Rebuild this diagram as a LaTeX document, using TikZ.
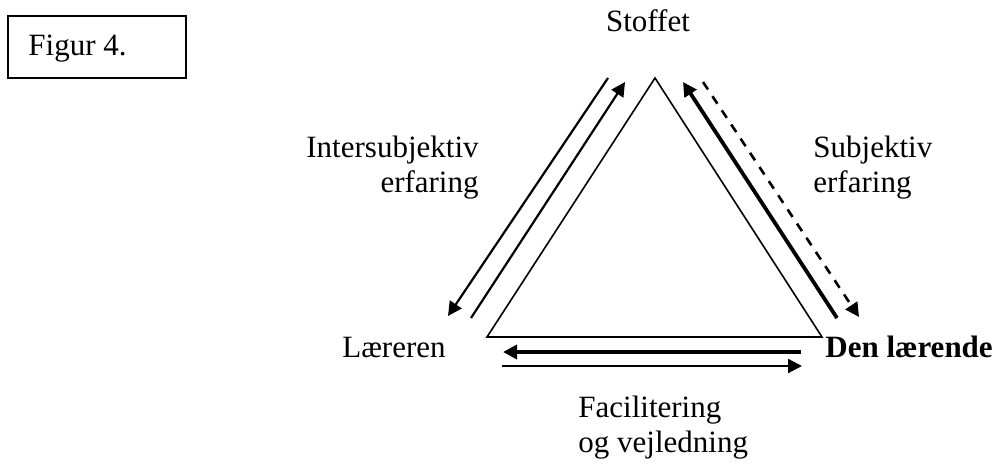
\documentclass[tikz,border=0pt]{standalone}
\usepackage{fontspec}
\setmainfont{Liberation Serif}
\usetikzlibrary{arrows.meta}
\begin{document}
\begin{tikzpicture}[x=0.5pt,y=-0.5pt,
  lbl/.style={inner sep=0pt,font=\fontsize{15.5}{17.5}\selectfont},
  edge/.style={line width=0.8pt},
  thin arrow/.style={line width=1.1pt,-{Triangle[length=7pt,width=7pt]}},
  thick arrow/.style={line width=1.9pt,-{Triangle[length=7pt,width=7pt]}}]
\useasboundingbox (0,0) rectangle (1001,466);

% caption box
\node[draw,line width=0.8pt,minimum width=89pt,minimum height=31pt,inner sep=0pt] (box) at (97,47) {};
\node[lbl,anchor=base west] (cap) at (28,55) {Figur 4.};

% triangle
\coordinate (top) at (655,78);
\coordinate (bl) at (487,337);
\coordinate (br) at (822,337);
\draw[edge,line join=miter] (top) -- (bl) -- (br) -- cycle;

% left side: intersubjective experience
\coordinate (l1a) at (608,78);
\coordinate (l1b) at (448,316);
\coordinate (l2a) at (471,318);
\coordinate (l2b) at (625,82);
\draw[thin arrow] (l1a) -- (l1b);
\draw[thin arrow] (l2a) -- (l2b);

% right side: subjective experience
\coordinate (r1a) at (837,318);
\coordinate (r1b) at (683,82);
\coordinate (r2a) at (703,82);
\coordinate (r2b) at (859,317);
\draw[thick arrow] (r1a) -- (r1b);
\draw[thin arrow,line width=1.3pt,dash pattern=on 4.5pt off 4pt] (r2a) -- (r2b);

% bottom: facilitation and guidance
\coordinate (b1a) at (801,352);
\coordinate (b1b) at (503,352);
\coordinate (b2a) at (502,366);
\coordinate (b2b) at (802,366);
\draw[thick arrow] (b1a) -- (b1b);
\draw[thin arrow] (b2a) -- (b2b);

% labels (multi-line nodes are placed by the baseline of their last line)
\node[lbl,anchor=base] (stoffet) at (648,32) {Stoffet};
\node[lbl,anchor=base east,align=right] (inter) at (479,192) {Intersubjektiv\\erfaring};
\node[lbl,anchor=base west,align=left] (subj) at (813,192) {Subjektiv\\erfaring};
\node[lbl,anchor=base east] (laer) at (446,357) {Læreren};
\node[lbl,anchor=base west,font=\fontsize{15.5}{17.5}\selectfont\bfseries] (elev) at (825,357) {Den lærende};
\node[lbl,anchor=base west,align=left] (fac) at (578,452) {Facilitering\\og vejledning};
\end{tikzpicture}
\end{document}
